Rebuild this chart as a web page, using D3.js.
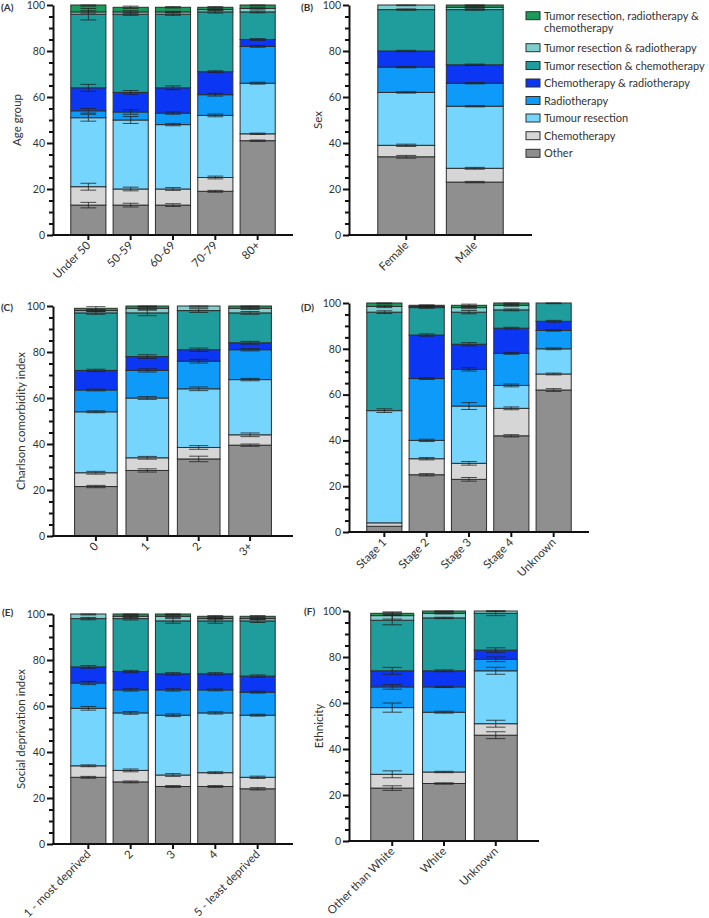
<!DOCTYPE html>
<html>
<head>
<meta charset="utf-8">
<script src="https://cdn.jsdelivr.net/npm/d3@7"></script>
<style>
  html, body { margin: 0; padding: 0; background: #fff; }
  svg { display: block; }
  text { font-family: Lato, "Open Sans", sans-serif; fill: #333; }
</style>
</head>
<body>
<svg id="chart" width="709" height="918"></svg>
<script>
// ---------- DATA (segments bottom to top, percent) ----------
const seriesNames = ["Other", "Chemotherapy", "Tumour resection", "Radiotherapy",
  "Chemotherapy & radiotherapy", "Tumor resection & chemotherapy",
  "Tumor resection & radiotherapy", "Tumor resection, radiotherapy & chemotherapy"];
const seriesColors = ["#8f8f8f", "#d6d6d6", "#75d5fc", "#0d9af8",
  "#0b36f4", "#1f9c9c", "#7fcfcf", "#1b9a5c"];
const legendOrder = [7, 6, 5, 4, 3, 2, 1, 0];
const legendLines = [["Other"], ["Chemotherapy"], ["Tumour resection"], ["Radiotherapy"],
  ["Chemotherapy & radiotherapy"], ["Tumor resection & chemotherapy"],
  ["Tumor resection & radiotherapy"], ["Tumor resection, radiotherapy &", "chemotherapy"]];

const yTicks = [0, 20, 40, 60, 80, 100];

// (A) Age group
const catsA = ["Under 50", "50-59", "60-69", "70-79", "80+"];
const valuesA = [
  [13, 8, 30, 3, 10, 32, 1, 3],
  [13, 7, 30, 3.5, 8.5, 34, 1, 2],
  [13, 7, 28, 5, 11, 32, 1, 2],
  [19, 6, 27, 9, 10, 26, 1, 1],
  [41, 3, 22, 16, 3, 12, 1.5, 1.5]];
const errorsA = [
  [1.2, 1.5, 1.5, 1, 1.5, 2.5, 0.5, 0.5],
  [0.8, 0.8, 1.5, 1, 0.8, 0.5, 0.5, 0.5],
  [0.6, 0.6, 0.5, 0.5, 0.8, 0.5, 0.3, 0.3],
  [0.4, 0.6, 0.6, 0.6, 0.4, 0.5, 0.3, 0.3],
  [0.3, 0.3, 0.4, 0.4, 0.4, 0.4, 0.3, 0.4]];

// (B) Sex
const catsB = ["Female", "Male"];
const valuesB = [
  [34, 5, 23, 11, 7, 18, 2, 0],
  [23, 6, 27, 10, 8, 24, 1, 1]];
const errorsB = [
  [0.6, 0.5, 0.3, 0.3, 0.3, 0.3, 0.3, 0],
  [0.3, 0.4, 0.3, 0.3, 0.3, 0.3, 0.3, 0.2]];

// (C) Charlson comorbidity index
const catsC = ["0", "1", "2", "3+"];
const valuesC = [
  [21.5, 6, 26.5, 9.5, 8.5, 25, 1, 1],
  [28.5, 5.5, 26, 12, 6, 19, 2, 1],
  [33.5, 5, 25.5, 12, 5, 17, 2, 0],
  [39.5, 4.5, 24, 13, 3, 13, 2, 1]];
const errorsC = [
  [0.5, 0.6, 0.4, 0.4, 0.5, 0.6, 0.4, 0.7],
  [0.7, 0.6, 0.6, 0.7, 0.8, 1.2, 0.6, 0.4],
  [1.2, 0.8, 0.8, 0.8, 0.7, 0.8, 0.5, 0],
  [0.5, 0.8, 0.5, 0.5, 0.6, 0.6, 0.5, 0.3]];

// (D) Stage
const catsD = ["Stage 1", "Stage 2", "Stage 3", "Stage 4", "Unknown"];
const valuesD = [
  [2.5, 1.5, 49, 0, 0, 43, 2.5, 1.5],
  [25, 7, 8, 27, 19, 12, 0.5, 0.5],
  [23, 7, 25, 16, 11, 14, 2, 1],
  [42, 12, 10, 14, 11, 8, 2, 1],
  [62, 7, 11, 8, 4, 8, 0, 0]];
const errorsD = [
  [0, 0, 0.8, 0, 0, 0.6, 0.5, 0.3],
  [0.5, 0.5, 0.5, 0.4, 0.5, 0.3, 0.2, 0.2],
  [0.8, 0.8, 1.5, 0.7, 0.7, 0.7, 0.5, 0.5],
  [0.5, 0.6, 0.6, 0.4, 0.4, 0.4, 0.4, 0.4],
  [0.6, 0.4, 0.4, 0.3, 0.4, 0.3, 0, 0]];

// (E) Social deprivation index
const catsE = ["1 - most deprived", "2", "3", "4", "5 - least deprived"];
const valuesE = [
  [29, 5, 25, 11, 7, 21, 2, 0],
  [27, 5, 25, 10, 8, 23, 1, 1],
  [25, 5, 26, 11, 7, 23, 2, 1],
  [25, 6, 26, 10, 7, 23, 1, 1],
  [24, 5, 27, 10, 7, 24, 1, 1]];
const errorsE = [
  [0.4, 0.4, 0.8, 0.7, 0.6, 0.5, 0.4, 0],
  [0.4, 0.6, 0.6, 0.5, 0.5, 0.6, 0.4, 0.3],
  [0.4, 0.6, 0.6, 0.5, 0.5, 1, 0.5, 0.3],
  [0.4, 0.4, 0.5, 0.4, 0.5, 1, 0.5, 0.3],
  [0.5, 0.5, 0.4, 0.4, 0.5, 0.7, 0.4, 0.3]];

// (F) Ethnicity
const catsF = ["Other than White", "White", "Unknown"];
const valuesF = [
  [23, 6, 29, 9, 7, 22, 2, 1],
  [25, 5, 26, 11, 7, 23, 2, 1],
  [46, 5, 23, 5, 4, 16, 1, 0]];
const errorsF = [
  [1, 1.5, 2, 1, 1.5, 2, 1.5, 0.5],
  [0.3, 0.3, 0.4, 0.3, 0.4, 0.3, 0.3, 0.2],
  [1.5, 1.5, 1.5, 1, 1, 1, 0.3, 0]];

// ---------- LAYOUT ----------
const panels = [
  {tag: "(A)", title: "Age group", cats: catsA, vals: valuesA, errs: errorsA,
   x0: 53, x1: 293, yTop: 5, yBot: 235, tagX: 1, tagY: 11, titleX: 21},
  {tag: "(B)", title: "Sex", cats: catsB, vals: valuesB, errs: errorsB,
   x0: 349, x1: 532, yTop: 5, yBot: 235, tagX: 301, tagY: 11, titleX: 322},
  {tag: "(C)", title: "Charlson comorbidity index", cats: catsC, vals: valuesC, errs: errorsC,
   x0: 53, x1: 293, yTop: 306, yBot: 536, tagX: 1, tagY: 311, titleX: 25},
  {tag: "(D)", title: "", cats: catsD, vals: valuesD, errs: errorsD,
   x0: 349, x1: 589, yTop: 303, yBot: 532, tagX: 301, tagY: 311, titleX: 322},
  {tag: "(E)", title: "Social deprivation index", cats: catsE, vals: valuesE, errs: errorsE,
   x0: 53, x1: 293, yTop: 614, yBot: 844, tagX: 2, tagY: 616, titleX: 25},
  {tag: "(F)", title: "Ethnicity", cats: catsF, vals: valuesF, errs: errorsF,
   x0: 349, x1: 539, yTop: 611, yBot: 841, tagX: 304, tagY: 615, titleX: 323}
];

const svg = d3.select("#chart");

panels.forEach(p => {
  const g = svg.append("g");
  const x = d3.scaleBand().domain(p.cats).range([p.x0, p.x1])
    .paddingInner(0.17).paddingOuter(0.42);
  const y = d3.scaleLinear().domain([0, 100]).range([p.yBot, p.yTop]);
  const bw = x.bandwidth();

  // bars
  p.cats.forEach((c, i) => {
    let cum = 0;
    const segs = p.vals[i].map((v, s) => {
      const d = {s, y0: cum, y1: cum + v, err: p.errs[i][s], v};
      cum += v; return d;
    });
    const bg = g.append("g");
    bg.selectAll("rect").data(segs.filter(d => d.v > 0)).join("rect")
      .attr("x", x(c)).attr("width", bw)
      .attr("y", d => y(d.y1)).attr("height", d => y(d.y0) - y(d.y1))
      .attr("fill", d => seriesColors[d.s])
      .attr("stroke", "#2e2e2e").attr("stroke-width", 1);
    // error bars
    const cx = x(c) + bw / 2, cap = Math.min(20, bw * 0.45);
    const eb = segs.filter(d => d.v > 0 && d.err > 0);
    const eg = g.append("g").attr("stroke", "#222").attr("stroke-width", 0.8);
    eg.selectAll("line.v").data(eb).join("line").attr("class", "v")
      .attr("x1", cx).attr("x2", cx)
      .attr("y1", d => y(Math.min(100, d.y1 + d.err))).attr("y2", d => y(d.y1 - d.err));
    eg.selectAll("line.t").data(eb).join("line").attr("class", "t")
      .attr("x1", cx - cap / 2).attr("x2", cx + cap / 2)
      .attr("y1", d => y(Math.min(100, d.y1 + d.err))).attr("y2", d => y(Math.min(100, d.y1 + d.err)));
    eg.selectAll("line.b").data(eb).join("line").attr("class", "b")
      .attr("x1", cx - cap / 2).attr("x2", cx + cap / 2)
      .attr("y1", d => y(d.y1 - d.err)).attr("y2", d => y(d.y1 - d.err));
  });

  // y axis major
  const ya = g.append("g").attr("transform", `translate(${p.x0},0)`)
    .call(d3.axisLeft(y).tickValues(yTicks).tickSize(6).tickSizeOuter(0).tickPadding(2));
  ya.select(".domain").attr("stroke", "#111").attr("stroke-width", 2);
  ya.selectAll(".tick line").attr("stroke", "#111").attr("stroke-width", 2);
  ya.selectAll(".tick text").style("font-family", "Lato, sans-serif")
    .style("font-size", "10.5px").attr("fill", "#333");
  // minor ticks
  const minor = d3.range(0, 101, 5).filter(v => v % 20 !== 0);
  const ym = g.append("g").attr("transform", `translate(${p.x0},0)`)
    .call(d3.axisLeft(y).tickValues(minor).tickSize(4).tickSizeOuter(0).tickFormat(""));
  ym.select(".domain").remove();
  ym.selectAll(".tick line").attr("stroke", "#111").attr("stroke-width", 2);

  // x axis
  const xa = g.append("g").attr("transform", `translate(0,${p.yBot})`)
    .call(d3.axisBottom(x).tickSize(5).tickSizeOuter(0).tickFormat(""));
  xa.select(".domain").attr("stroke", "#111").attr("stroke-width", 2)
    .attr("d", `M${p.x0 - 1},0H${p.x1}`);
  xa.selectAll(".tick line").attr("stroke", "#111").attr("stroke-width", 2);
  g.selectAll("text.xl").data(p.cats).join("text").attr("class", "xl")
    .attr("transform", d => `translate(${x(d) + bw / 2 + 3},${p.yBot + 11}) rotate(-45)`)
    .attr("text-anchor", "end")
    .style("font-size", "11.5px")
    .text(d => d);

  // axis title
  if (p.title) {
    g.append("text")
      .attr("transform", `translate(${p.titleX},${(p.yTop + p.yBot) / 2}) rotate(-90)`)
      .attr("text-anchor", "middle").style("font-size", "11.5px").text(p.title);
  }
  // panel tag
  g.append("text").attr("x", p.tagX).attr("y", p.tagY)
    .style("font-size", "10px").style("font-weight", "bold").attr("fill", "#111")
    .text(p.tag);
});

// ---------- LEGEND ----------
const lg = svg.append("g");
const rowY = [15.7, 47.7, 65.5, 83, 100.5, 118, 135.7, 153.3];
legendOrder.forEach((s, r) => {
  lg.append("rect").attr("x", 526).attr("y", rowY[r] - 4).attr("width", 14).attr("height", 8)
    .attr("fill", seriesColors[s]).attr("stroke", "#2e2e2e").attr("stroke-width", 1);
  legendLines[s].forEach((t, k) => {
    lg.append("text").attr("x", 544).attr("y", rowY[r] + 4 + k * 12)
      .style("font-size", "11px").text(t);
  });
});
</script>
</body>
</html>
